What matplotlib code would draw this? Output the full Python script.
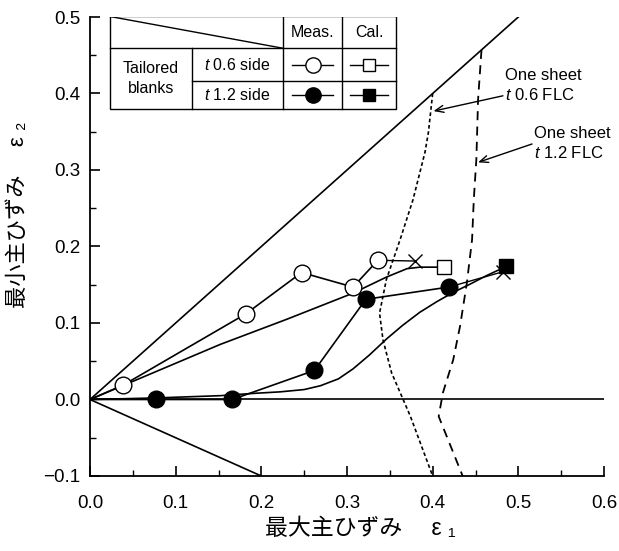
import matplotlib
matplotlib.use("Agg")
import matplotlib.pyplot as plt
from matplotlib.lines import Line2D

plt.rcParams['font.family'] = ['Liberation Sans', 'Noto Sans CJK JP', 'DejaVu Sans']
plt.rcParams['mathtext.fontset'] = 'custom'
plt.rcParams['mathtext.it'] = 'Liberation Sans:italic'
plt.rcParams['mathtext.rm'] = 'Liberation Sans'

# reference lines: equi-biaxial, plane strain, uniaxial
eq_x = [0.0, 0.5]
eq_y = [0.0, 0.5]
ps_x = [0.0, 0.6]
ps_y = [0.0, 0.0]
ua_x = [0.0, 0.2]
ua_y = [0.0, -0.1]

# measured, tailored blanks
meas06_x = [0.0, 0.039, 0.182, 0.247, 0.307, 0.336]
meas06_y = [0.0, 0.019, 0.112, 0.166, 0.147, 0.182]
frac06 = (0.379, 0.181)
meas12_x = [0.0, 0.077, 0.166, 0.262, 0.322, 0.419]
meas12_y = [0.0, 0.0, 0.0, 0.038, 0.131, 0.147]
frac12 = (0.482, 0.167)

# calculated paths
cal06_x = [0.0, 0.076, 0.152, 0.230, 0.307, 0.346, 0.370, 0.385, 0.400, 0.413]
cal06_y = [0.0, 0.036, 0.072, 0.105, 0.139, 0.160, 0.171, 0.173, 0.173, 0.173]
cal12_x = [0.0, 0.076, 0.152, 0.191, 0.222, 0.250, 0.269, 0.290, 0.307, 0.326,
           0.346, 0.365, 0.385, 0.405, 0.424, 0.444, 0.463, 0.486]
cal12_y = [0.0, 0.002, 0.005, 0.008, 0.010, 0.013, 0.018, 0.027, 0.040, 0.058,
           0.079, 0.097, 0.114, 0.128, 0.140, 0.151, 0.162, 0.174]

# one sheet FLCs
flc06_x = [0.400, 0.395, 0.391, 0.377, 0.362, 0.346, 0.338, 0.342, 0.352, 0.364, 0.374, 0.400]
flc06_y = [0.400, 0.349, 0.323, 0.261, 0.209, 0.157, 0.113, 0.078, 0.035, 0.004, -0.022, -0.100]
flc12_x = [0.457, 0.453, 0.451, 0.448, 0.446, 0.440, 0.432, 0.424, 0.412, 0.407, 0.435]
flc12_y = [0.457, 0.392, 0.314, 0.261, 0.209, 0.153, 0.096, 0.052, 0.009, -0.022, -0.100]

fig = plt.figure(figsize=(6.19, 5.51), dpi=100)
ax = fig.add_axes([90/619, 1-476/551, 514/619, 459/551])

lw = 1.2
ax.plot(eq_x, eq_y, 'k-', lw=lw)
ax.plot(ps_x, ps_y, 'k-', lw=lw)
ax.plot(ua_x, ua_y, 'k-', lw=lw)

ax.plot(flc06_x, flc06_y, color='k', lw=1.2, ls=(0, (2.2, 1.6)))
ax.plot(flc12_x, flc12_y, color='k', lw=1.3, ls=(0, (5, 3.5)))

ax.plot(cal06_x, cal06_y, 'k-', lw=lw)
ax.plot(cal06_x[-1], cal06_y[-1], 's', ms=10, mfc='white', mec='k', mew=1.0)
ax.plot(cal12_x, cal12_y, 'k-', lw=lw)

ax.plot([meas06_x[-1], frac06[0]], [meas06_y[-1], frac06[1]], 'k-', lw=1.0)
ax.plot(*frac06, 'x', color='k', ms=10, mew=1.0)
ax.plot([meas12_x[-1], frac12[0]], [meas12_y[-1], frac12[1]], 'k-', lw=1.0)
ax.plot(*frac12, 'x', color='k', ms=10, mew=1.0)

ax.plot(meas06_x, meas06_y, 'k-', lw=lw)
ax.plot(meas06_x[1:], meas06_y[1:], 'o', ms=12, mfc='white', mec='k', mew=1.0, ls='none')
ax.plot(meas12_x, meas12_y, 'k-', lw=lw)
ax.plot(meas12_x[1:], meas12_y[1:], 'o', ms=12, mfc='k', mec='k', ls='none')
ax.plot(cal12_x[-1], cal12_y[-1], 's', ms=10, mfc='k', mec='k')

ax.set_xlim(0, 0.6)
ax.set_ylim(-0.1, 0.5)
ax.set_xticks([0.0, 0.1, 0.2, 0.3, 0.4, 0.5, 0.6])
ax.set_yticks([-0.1, 0.0, 0.1, 0.2, 0.3, 0.4, 0.5])
ax.set_xticks([0.05, 0.15, 0.25, 0.35, 0.45, 0.55], minor=True)
ax.set_yticks([-0.05, 0.05, 0.15, 0.25, 0.35, 0.45], minor=True)
fmt = plt.FuncFormatter(lambda v, p: f'{v:.1f}'.replace('-', '\u2212'))
ax.xaxis.set_major_formatter(fmt)
ax.yaxis.set_major_formatter(fmt)
ax.tick_params(which='major', direction='in', length=7, width=1.2, labelsize=13.5)
ax.tick_params(axis='x', which='major', pad=14)
ax.tick_params(axis='y', which='major', pad=7)
ax.tick_params(which='minor', direction='in', length=4, width=1.0)
ax.spines['top'].set_visible(False)
ax.spines['right'].set_visible(False)
for s in ('left', 'bottom'):
    ax.spines[s].set_linewidth(1.3)

ax.set_xlabel('最大主ひずみ　 ε ₁', fontsize=16.5)
ax.set_ylabel('最小主ひずみ　 ε ₂', fontsize=16)
ax.xaxis.set_label_coords(0.525, -0.09)
ax.yaxis.set_label_coords(-0.119, 0.569)

# FLC labels
arrow = dict(arrowstyle='->,head_length=0.6,head_width=0.25', color='k', lw=1.0,
             shrinkA=0, shrinkB=0)
ax.annotate('', xy=(0.401, 0.377), xytext=(0.482, 0.397), arrowprops=arrow)
ax.text(0.485, 0.411, 'One sheet\n$\\it{t}$ 0.6 FLC', fontsize=12, ha='left', va='center',
        linespacing=1.3)
ax.annotate('', xy=(0.453, 0.310), xytext=(0.516, 0.334), arrowprops=arrow)
ax.text(0.518, 0.335, 'One sheet\n$\\it{t}$ 1.2 FLC', fontsize=12, ha='left', va='center',
        linespacing=1.3)

# legend table
tr = ax.transAxes
xs = [(p - 90) / 514 for p in (110, 191.7, 283.3, 342.3, 396)]
ys = [(476 - p) / 459 for p in (16.5, 48.3, 80.7, 109.3)]
ax.add_patch(plt.Rectangle((xs[0], ys[3]), xs[4] - xs[0], ys[0] - ys[3],
                           transform=tr, fc='white', ec='k', lw=1.0, zorder=5))
tl = dict(transform=tr, color='k', lw=1.0, zorder=6)
ax.add_line(Line2D([xs[0], xs[4]], [ys[1], ys[1]], **tl))
ax.add_line(Line2D([xs[1], xs[4]], [ys[2], ys[2]], **tl))
ax.add_line(Line2D([xs[1], xs[1]], [ys[1], ys[3]], **tl))
ax.add_line(Line2D([xs[2], xs[2]], [ys[0], ys[3]], **tl))
ax.add_line(Line2D([xs[3], xs[3]], [ys[0], ys[3]], **tl))
ax.add_line(Line2D([xs[0], xs[2]], [ys[0], ys[1]], **tl))

tk = dict(transform=tr, fontsize=11.5, ha='center', va='center', zorder=7)
ax.text((xs[2] + xs[3]) / 2, (ys[0] + ys[1]) / 2, 'Meas.', **tk)
ax.text((xs[3] + xs[4]) / 2, (ys[0] + ys[1]) / 2, 'Cal.', **tk)
ax.text((xs[0] + xs[1]) / 2, (ys[1] + ys[3]) / 2, 'Tailored\nblanks', linespacing=1.4, **tk)
ax.text((xs[1] + xs[2]) / 2, (ys[1] + ys[2]) / 2, '$\\it{t}$ 0.6 side', **tk)
ax.text((xs[1] + xs[2]) / 2, (ys[2] + ys[3]) / 2, '$\\it{t}$ 1.2 side', **tk)

glyphs = [
    (2, 1, 'o', 'white', 11),
    (3, 1, 's', 'white', 9),
    (2, 2, 'o', 'k', 11),
    (3, 2, 's', 'k', 9),
]
for col, row, mk, fc, ms in glyphs:
    x0, x1 = xs[col], xs[col + 1]
    yc = (ys[row] + ys[row + 1]) / 2
    pad = (x1 - x0) * 0.15
    ax.add_line(Line2D([x0 + pad, x1 - pad], [yc, yc], transform=tr, color='k', lw=1.0, zorder=6))
    ax.add_line(Line2D([(x0 + x1) / 2], [yc], transform=tr, marker=mk, ms=ms,
                       mfc=fc, mec='k', mew=1.0, ls='none', zorder=7))

fig.savefig('out.png', dpi=100)
